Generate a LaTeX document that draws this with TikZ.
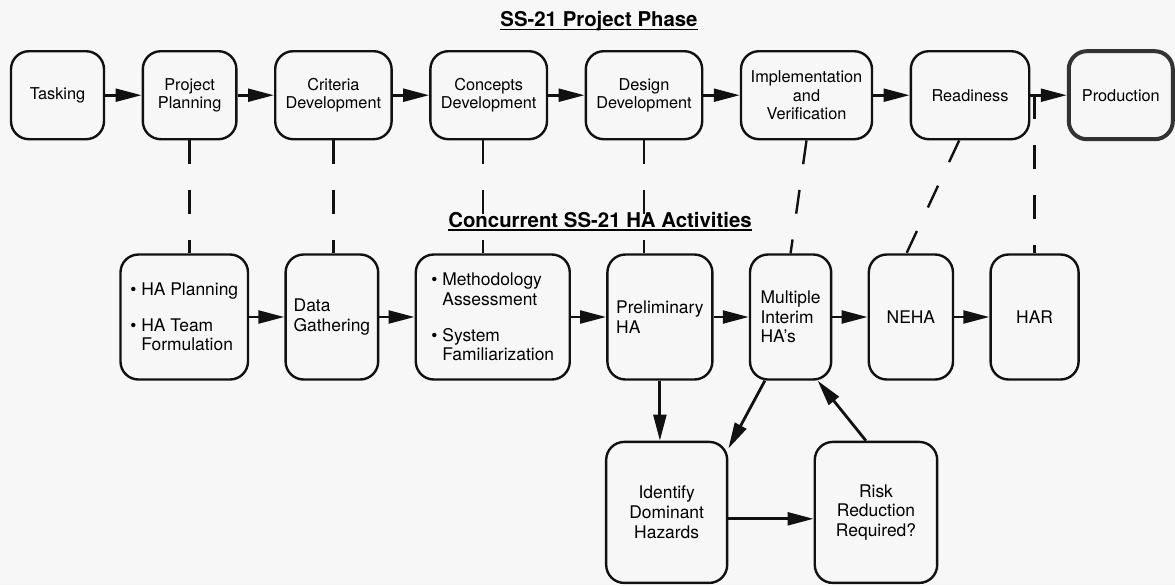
\documentclass[tikz,border=0pt]{standalone}
\usepackage{fontspec}
\setmainfont{TeX Gyre Heros}
\usepackage{tikz}
\usetikzlibrary{arrows.meta, positioning, calc}
\definecolor{papercolor}{HTML}{F7F7F7}
\definecolor{inkcolor}{HTML}{111111}
\newcommand{\ulhead}[1]{\setbox0=\hbox{#1}\rlap{\copy0}\rule[-2.6pt]{\wd0}{1.2pt}}
\newcommand{\hab}{\textbullet\ }
\newcommand{\habgap}{\phantom{\textbullet\ }}

\begin{document}
\begin{tikzpicture}[
    phase/.style={rectangle, rounded corners=0.45cm, draw=inkcolor, line width=0.06cm,
                  minimum height=2.2cm, align=center, inner sep=2pt,
                  font=\fontsize{11.6}{13}\selectfont},
    activity/.style={rectangle, rounded corners=0.45cm, draw=inkcolor, line width=0.06cm,
                  minimum height=3.125cm, align=left, inner sep=2pt,
                  font=\fontsize{12.4}{14}\selectfont},
    heading/.style={anchor=base, font=\fontsize{14.5}{16}\selectfont\bfseries},
    arrow/.style={-{Triangle[length=0.65cm, width=0.32cm]}, line width=0.07cm, draw=inkcolor},
    link/.style={line width=0.06cm, draw=inkcolor, dash pattern=on 0.6cm off 0.65cm},
    node distance=0.91cm
]
    \path[fill=papercolor, use as bounding box] (0,0) rectangle (29.375,-14.625);

    \node[heading] (phasehead) at (14.975,-0.665) {\ulhead{SS-21 Project Phase}};
    \node[heading] (hahead) at (15.0,-5.675) {\ulhead{Concurrent SS-21 HA Activities}};

    % project phases
    \node[phase, minimum width=2.325cm] (task) at (1.4375,-2.38) {Tasking};
    \node[phase, minimum width=2.34cm, right=of task] (plan) {Project\\Planning};
    \node[phase, minimum width=2.91cm, right=of plan] (crit) {Criteria\\Development};
    \node[phase, minimum width=2.915cm, right=of crit] (conc) {Concepts\\Development};
    \node[phase, minimum width=2.91cm, right=of conc] (desg) {Design\\Development};
    \node[phase, minimum width=3.275cm, right=of desg] (impl) {Implementation\\and\\Verification};
    \node[phase, minimum width=2.96cm, right=of impl] (ready) {Readiness};
    \node[phase, minimum width=2.6cm, right=of ready, line width=0.1cm, draw=black!80] (prod) {Production};

    % HA activities
    \node[activity, minimum width=3.1875cm] (haplan) at (4.606,-7.925)
        {\hab HA Planning\\[0.4cm]\hab HA Team\\\habgap Formulation};
    \node[activity, minimum width=2.315cm, right=0.88cm of haplan] (gather) {Data\\Gathering};
    \node[activity, minimum width=3.85cm, right=0.88cm of gather] (method)
        {\hab Methodology\\\habgap Assessment\\[0.4cm]\hab System\\\habgap Familiarization};
    \node[activity, minimum width=2.625cm, right=0.88cm of method] (prelim) {Preliminary\\HA};
    \node[activity, minimum width=2.03cm, right=0.88cm of prelim] (multi) {Multiple\\Interim\\HA's};
    \node[activity, minimum width=2.105cm, right=0.88cm of multi, align=center] (neha) {NEHA};
    \node[activity, minimum width=2.2cm, right=0.88cm of neha, align=center] (har) {HAR};
    \node[activity, minimum width=3.025cm, minimum height=3.525cm, align=center,
          below=1.5cm of prelim, xshift=0.17cm] (ident) {Identify\\Dominant\\Hazards};
    \node[activity, minimum width=3.06cm, minimum height=3.525cm, align=center,
          right=2.13cm of ident] (risk) {Risk\\Reduction\\Required?};

    \draw[arrow] (task) -- (plan);
    \draw[arrow] (plan) -- (crit);
    \draw[arrow] (crit) -- (conc);
    \draw[arrow] (conc) -- (desg);
    \draw[arrow] (desg) -- (impl);
    \draw[arrow] (impl) -- (ready);
    \draw[arrow] (ready) -- (prod);

    \draw[arrow] (haplan) -- (gather);
    \draw[arrow] (gather) -- (method);
    \draw[arrow] (method) -- (prelim);
    \draw[arrow] (prelim) -- (multi);
    \draw[arrow] (multi) -- (neha);
    \draw[arrow] (neha) -- (har);

    \draw[arrow] (prelim.south) -- (prelim.south |- ident.north);
    \draw[arrow] (multi.248) -- (ident.46);
    \draw[arrow] (risk.98) -- (multi.293);
    \draw[arrow] ([yshift=-0.16cm]ident.east) -- ([yshift=-0.16cm]risk.west);

    % dashed ties between phase and activity
    \coordinate (tap) at (har.north |- ready.east);
    \draw[link] (plan.south) -- (plan.south |- haplan.north);
    \draw[link] (crit.south) -- (crit.south |- gather.north);
    \draw[link] ([xshift=-0.14cm]conc.south) -- ([xshift=-0.14cm]conc.south |- method.north);
    \draw[link] (desg.south) -- (desg.south |- prelim.north);
    \draw[link] (impl.south) -- (multi.north);
    \draw[link] ([xshift=-0.27cm]ready.south) -- ([xshift=-0.11cm]neha.north);
    \draw[link] (tap) -- (har.north);
\end{tikzpicture}
\end{document}
